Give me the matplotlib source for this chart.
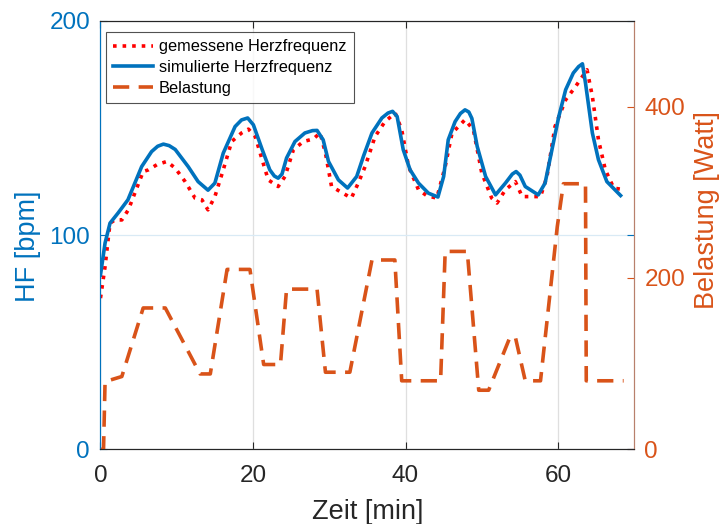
import matplotlib
matplotlib.use("Agg")
import matplotlib.pyplot as plt
import numpy as np

plt.rcParams['font.family'] = ['Liberation Sans', 'DejaVu Sans']

# Simulated heart rate
t_sim = [0, 0.6, 1.25, 2.3, 3.6, 5.4, 6.7, 7.5, 8.25, 9.0, 9.8, 11.5, 12.8, 14.1, 15.0, 16.1,
         17.65, 18.5, 19.3, 20.05, 21.2, 22.2, 22.8, 23.3, 23.8, 24.4, 25.5, 26.8, 27.8, 28.4, 29.2, 29.9,
         31.2, 32.4, 33.6, 34.5, 35.6, 36.9, 37.7, 38.3, 38.9, 39.7, 40.6, 41.7, 43.0, 44.25,
         45.0, 45.6, 46.5, 47.2, 47.8, 48.3, 48.7, 49.4, 50.5, 51.8, 53.1, 54.0, 54.5, 55.0, 55.7, 57.4, 58.3,
         59.2, 60.1, 61.0, 62.0, 62.7, 63.2, 63.6, 64.5, 65.3, 66.4, 68.2]
hf_sim = [81.4, 96.3, 105.6, 110.3, 116.5, 132, 139, 141.5, 142.5, 141.8, 140, 132, 125, 121, 124.3, 138.3,
          150.7, 153.8, 154.7, 151.5, 140, 130.5, 127.6, 126.6, 128.5, 136, 143.7, 147.7, 148.8, 148.9, 144.5, 134.4,
          125.8, 122, 127.4, 137, 147.7, 154.7, 157, 157.8, 155.4, 139.9, 130.5, 124.3, 119.6, 117.8,
          127.4, 144.5, 153, 156.8, 158.5, 157.5, 154.5, 141.4, 127.4, 118.8, 124.3, 128.5, 129.7, 128, 122.7, 118.8, 124.3,
          139.9, 155.4, 167.9, 175.7, 178.7, 180, 171, 147.7, 135.2, 125, 118.5]

# Measured heart rate
t_mess = [0, 0.6, 1.25, 1.9, 2.8, 3.65, 4.5, 5.6, 6.3, 7.4, 8.7, 9.8, 11.1, 12.4, 13.3, 14.1,
          15.0, 16.1, 17.2, 18.5, 19.4, 20.3, 21.2, 22.0, 23.3, 24.2, 25.3, 26.6, 27.9, 28.8,
          29.5, 30.3, 31.4, 32.9, 33.8, 34.7, 36.0, 37.3, 38.65, 39.5, 40.4, 41.7, 42.8, 44.1,
          45.2, 46.1, 46.95, 47.8, 48.9, 50.0, 51.3, 52.0, 53.1, 54.4, 55.3, 56.6, 57.7, 58.55,
          59.6, 61.0, 62.3, 63.8, 64.5, 65.3, 66.2, 67.3, 68.6]
hf_mess = [70.6, 85.3, 105.6, 107.1, 107.1, 111.8, 119.6, 129.7, 130.5, 132.9, 134.4, 131.3, 125,
           117.3, 116.5, 111.8, 118, 130.5, 143.7, 147.7, 149.5, 146, 135.2, 125.8, 122.7, 127.4,
           139.9, 143.7, 144.9, 147.7, 138.3, 122.7, 120.4, 117.3, 124.3, 132, 146, 153, 157,
           149.2, 132, 121.2, 118.4, 117.3, 132, 147.7, 150.7, 153.9, 149.2, 129, 117.3, 115,
           121.2, 125, 118, 118, 118, 127.4, 150.7, 163.2, 169.4, 177.2, 164.8, 144.5, 130.5,
           122, 121.2]

# Load (Belastung)
t_last = [0, 0.4, 0.6, 2.8, 5.6, 8.5, 13.06, 14.4, 16.6, 19.6, 21.4, 23.6, 24.4, 28.4, 29.5,
          32.7, 35.6, 38.6, 39.5, 44.6, 45.2, 48.1, 49.6, 50.9, 53.7, 54.4, 55.7, 57.7, 59.9,
          60.7, 63.6, 63.7, 68.6]
w_last = [0, 0, 79, 85, 165, 165, 88, 88, 210, 210, 99, 99, 187, 187, 90,
          90, 221, 221, 80, 80, 231, 231, 69, 69, 131, 131, 80, 80, 260,
          310, 310, 80, 80]

blue = '#0072BD'
orange = '#D95319'
dark = '#262626'

fig = plt.figure(figsize=(7.26, 5.24), dpi=100)
ax = fig.add_axes([0.1384, 0.1425, 0.7353, 0.8175])
ax2 = ax.twinx()

l1, = ax.plot(t_mess, hf_mess, color='red', linestyle=':', lw=2.6, label='gemessene Herzfrequenz')
l2, = ax.plot(t_sim, hf_sim, color=blue, lw=2.6, label='simulierte Herzfrequenz')
l3, = ax2.plot(t_last, w_last, color=orange, lw=2.6, dashes=(4.5, 2.6), label='Belastung')

ax.set_xlim(0, 70)
ax.set_ylim(0, 200)
ax2.set_ylim(0, 500)
ax.set_xticks([0, 20, 40, 60])
ax.set_yticks([0, 100, 200])
ax2.set_yticks([0, 200, 400])

ax.grid(True, axis='x', color='#dfdfdf', lw=0.9)
ax.grid(True, axis='y', color='#d9eaf5', lw=0.9)
ax.set_axisbelow(True)

ax.tick_params(axis='x', direction='in', labelsize=17.5, colors=dark, length=5, pad=11.3, top=True)
ax.tick_params(axis='y', direction='in', labelsize=17.5, colors=blue, length=5, pad=7.5, right=True)
ax2.tick_params(axis='y', direction='in', labelsize=17.5, colors=orange, length=5, pad=7.2)

ax.set_xlabel('Zeit [min]', fontsize=19.5, color=dark, labelpad=8.3)
ax.set_ylabel('HF [bpm]', fontsize=19.5, color=blue)
ax2.set_ylabel('Belastung [Watt]', fontsize=19.5, color=orange)
ax.yaxis.set_label_coords(-0.112, 0.475)
ax2.yaxis.set_label_coords(1.112, 0.559)

for a in (ax, ax2):
    a.spines['left'].set_color(blue)
    a.spines['right'].set_color('#b8806c')
    a.spines['top'].set_color(dark)
    a.spines['bottom'].set_color(dark)
    for s in a.spines.values():
        s.set_linewidth(0.8)

leg = ax2.legend(handles=[l1, l2, l3], loc='upper left', bbox_to_anchor=(0.0095, 0.974),
                 fontsize=11.8, frameon=True, fancybox=False, edgecolor=dark,
                 handlelength=2.45, borderpad=0.45, labelspacing=0.35, handletextpad=0.35,
                 borderaxespad=0)
leg.get_frame().set_linewidth(0.8)

fig.savefig('out.png', dpi=100)
